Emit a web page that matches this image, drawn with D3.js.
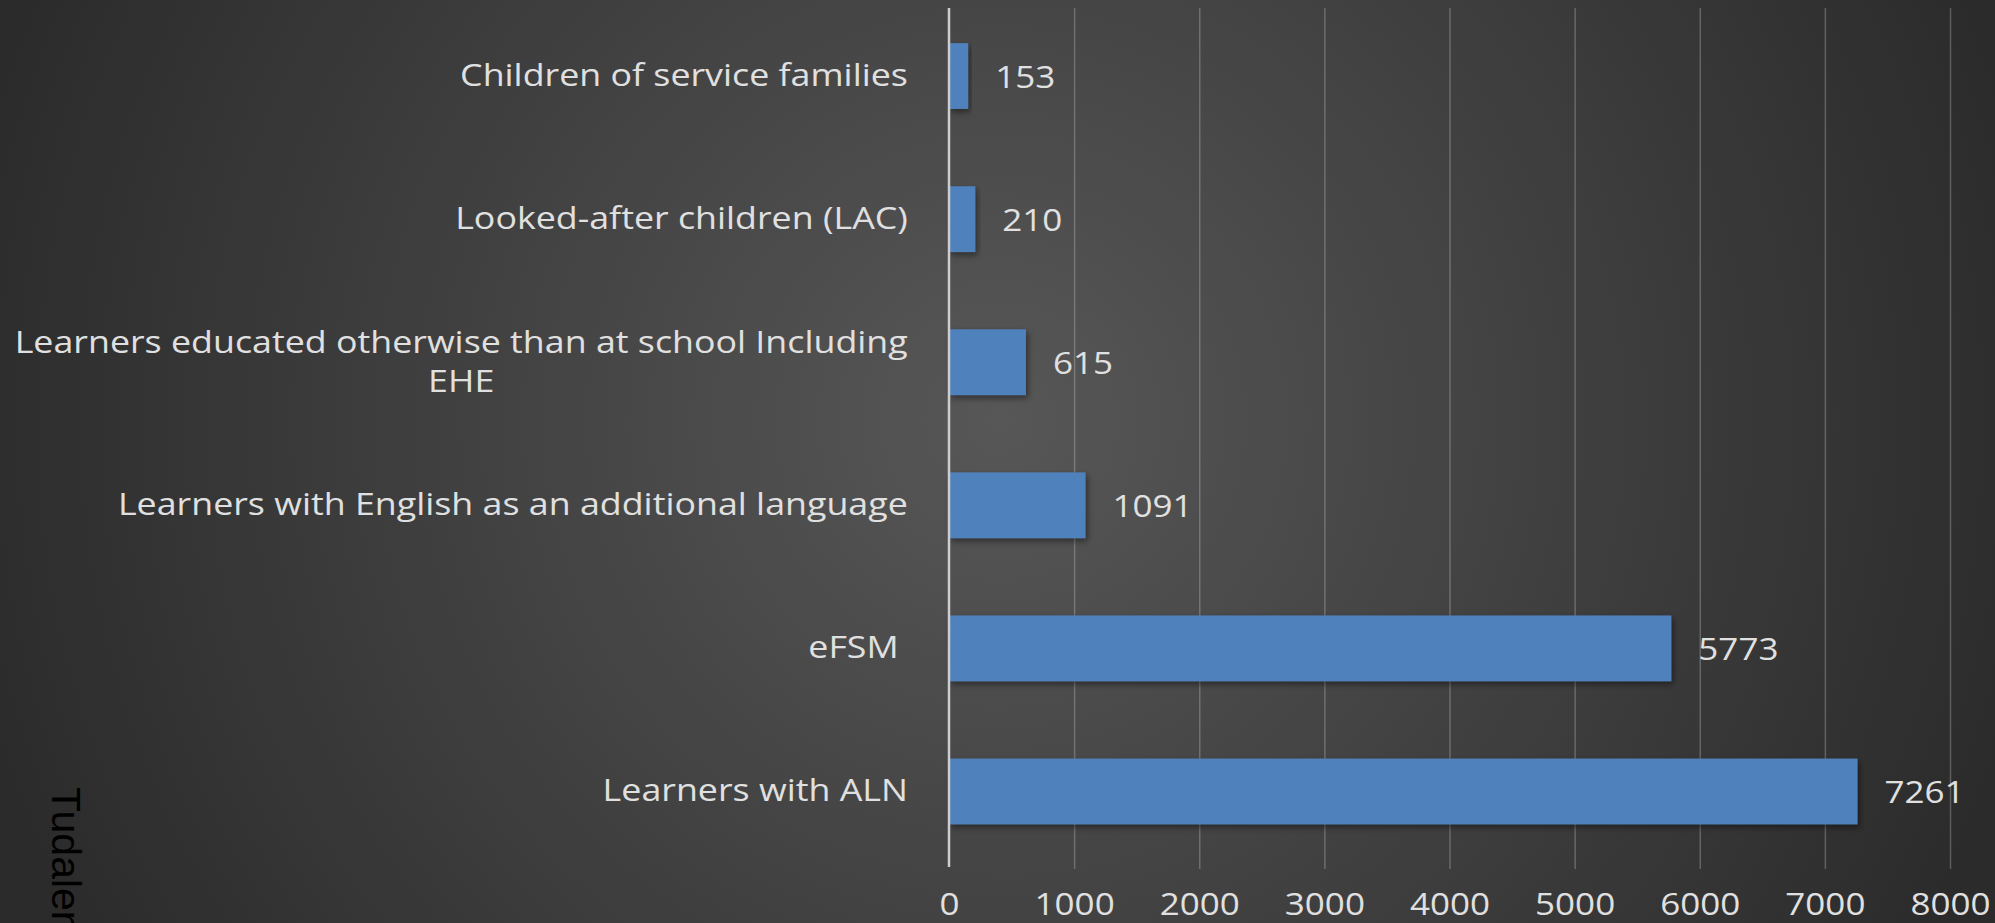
<!DOCTYPE html>
<html>
<head>
<meta charset="utf-8">
<script src="https://cdn.jsdelivr.net/npm/d3@7/dist/d3.min.js"></script>
<style>
  html, body { margin: 0; padding: 0; overflow: hidden; background: #2c2c2c; }
  svg { display: block; }
</style>
</head>
<body>
<svg id="chart" width="1995" height="923"></svg>
<script>
// Learner groups (top to bottom) and their counts
const categories = [
  "Children of service families",
  "Looked-after children (LAC)",
  "Learners educated otherwise than at school Including EHE",
  "Learners with English as an additional language",
  "eFSM ",
  "Learners with ALN"
];
const values = [153, 210, 615, 1091, 5773, 7261];
const tickValues = [0, 1000, 2000, 3000, 4000, 5000, 6000, 7000, 8000];
const pageLabel = "Tudalen";

// Layout
const W = 1995, H = 923;
const plotLeft = 949, plotRight = 1950;
const plotTop = 8, plotBottom = 869;
const bandTop = 4.5, bandBottom = 863;
const font = "'Open Sans', 'DejaVu Sans', sans-serif";
const fontSize = 31;
const numStretch = 1.13;       // horizontal stretch for numbers
const catStretch = 1.155;      // horizontal stretch for category names
const textColor = "#e0e0e0";
const barColor = "#4f81bd";
const labelGap = 41;           // space between category labels and axis line
const lineHeight = 39;
const wrapWidth = 940;

const svg = d3.select("#chart");
const defs = svg.append("defs");

// Dark slide background with a soft central glow
const bg = defs.append("radialGradient")
  .attr("id", "bgGrad")
  .attr("gradientUnits", "userSpaceOnUse")
  .attr("cx", 1000).attr("cy", 420).attr("r", 1060);
bg.append("stop").attr("offset", "0%").attr("stop-color", "#575757");
bg.append("stop").attr("offset", "100%").attr("stop-color", "#2b2b2b");

const shadow = defs.append("filter").attr("id", "barShadow")
  .attr("x", "-10%").attr("y", "-20%").attr("width", "130%").attr("height", "150%");
shadow.append("feDropShadow")
  .attr("dx", 2).attr("dy", 3).attr("stdDeviation", 3)
  .attr("flood-color", "#000").attr("flood-opacity", 0.45);

svg.append("rect").attr("width", W).attr("height", H).attr("fill", "url(#bgGrad)");

// Scales
const x = d3.scaleLinear().domain([0, 8000]).range([plotLeft, plotRight]);
const y = d3.scaleBand().domain(categories).range([bandTop, bandBottom])
  .paddingInner(0.54).paddingOuter(0.27);

// Vertical gridlines
const grid = svg.append("g")
  .attr("transform", `translate(0,${plotBottom})`)
  .call(d3.axisBottom(x).tickValues(tickValues.slice(1)).tickSize(-(plotBottom - plotTop)).tickFormat(""));
grid.select(".domain").remove();
grid.selectAll("line").attr("stroke", "#cfcfcf").attr("stroke-opacity", 0.3).attr("stroke-width", 1.5);

// Bars
const rows = categories.map((c, i) => ({ cat: c, value: values[i] }));
svg.append("g").selectAll("rect")
  .data(rows)
  .join("rect")
  .attr("x", x(0))
  .attr("y", d => y(d.cat))
  .attr("width", d => x(d.value) - x(0))
  .attr("height", y.bandwidth())
  .attr("fill", barColor)
  .attr("filter", "url(#barShadow)");

// Vertical axis line
svg.append("line")
  .attr("x1", x(0)).attr("x2", x(0))
  .attr("y1", plotTop).attr("y2", plotBottom - 2)
  .attr("stroke", "#cdcdcd").attr("stroke-width", 2.5);

// Bottom tick labels
const xAxis = svg.append("g")
  .attr("transform", `translate(0,${plotBottom})`)
  .call(d3.axisBottom(x).tickValues(tickValues).tickSize(0).tickFormat(d3.format("d")));
xAxis.select(".domain").remove();
xAxis.selectAll("text")
  .attr("y", 0).attr("dy", null)
  .attr("transform", `translate(0,46) scale(${numStretch},1)`)
  .attr("fill", textColor)
  .style("font-family", font)
  .style("font-size", fontSize + "px")
  .attr("text-anchor", "middle");

// Category labels on the left axis, wrapped and centred as a block
const yAxis = svg.append("g")
  .attr("transform", `translate(${plotLeft},0)`)
  .call(d3.axisLeft(y).tickSize(0));
yAxis.select(".domain").remove();

const measurer = svg.append("text")
  .style("font-family", font).style("font-size", fontSize + "px")
  .style("white-space", "pre").attr("opacity", 0);
function measure(s) {
  measurer.text(s);
  return measurer.node().getComputedTextLength() * catStretch;
}
function wrap(s) {
  const words = s.split(" ");
  const lines = [];
  let cur = "";
  words.forEach(w => {
    const trial = cur === "" ? w : cur + " " + w;
    if (cur !== "" && measure(trial) > wrapWidth) {
      lines.push(cur);
      cur = w;
    } else {
      cur = trial;
    }
  });
  lines.push(cur);
  return lines;
}

yAxis.selectAll(".tick text").each(function(d) {
  const t = d3.select(this);
  const lines = wrap(d);
  const blockW = d3.max(lines, measure);
  const cx = -labelGap - blockW / 2;
  t.text(null)
    .attr("x", null).attr("dy", null)
    .attr("fill", textColor)
    .style("font-family", font)
    .style("font-size", fontSize + "px")
    .style("white-space", "pre")
    .attr("text-anchor", "middle")
    .attr("transform", `translate(${cx},0) scale(${catStretch},1)`);
  lines.forEach((ln, i) => {
    t.append("tspan")
      .attr("x", 0)
      .attr("y", 10 + (i - (lines.length - 1) / 2) * lineHeight)
      .text(ln);
  });
});
measurer.remove();

// Value labels at bar ends
svg.append("g").selectAll("text")
  .data(rows)
  .join("text")
  .attr("transform", d => `translate(${x(d.value) + 27},${y(d.cat) + y.bandwidth() / 2 + 11.5}) scale(${numStretch},1)`)
  .attr("fill", textColor)
  .style("font-family", font)
  .style("font-size", fontSize + "px")
  .text(d => d.value);

// Page marker running down the lower-left edge
svg.append("text")
  .attr("transform", "translate(52,787) rotate(90)")
  .attr("fill", "#000")
  .style("font-family", "'Liberation Sans', Arial, sans-serif")
  .style("font-size", "41px")
  .text(pageLabel);
</script>
</body>
</html>
